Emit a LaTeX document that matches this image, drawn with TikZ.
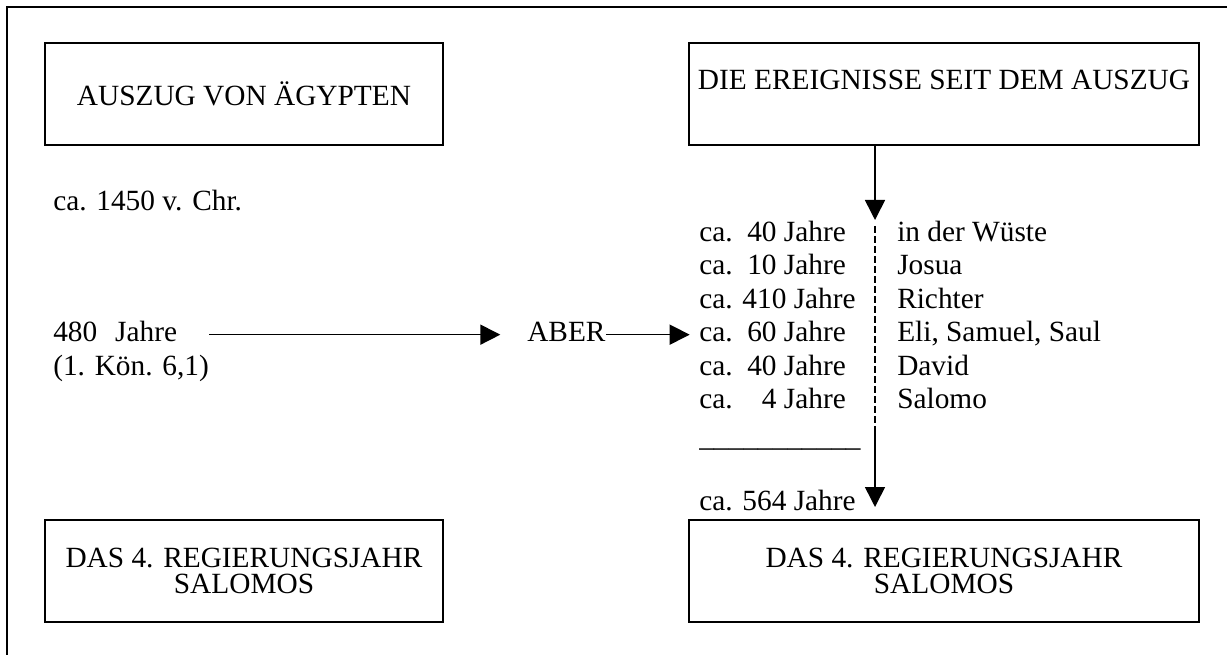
\documentclass[tikz,border=0pt]{standalone}
\usepackage{fontspec}
\setmainfont{Liberation Serif}
\usetikzlibrary{arrows.meta}
\begin{document}
\begin{tikzpicture}[x=0.75pt,y=-0.75pt,
    font=\fontsize{22pt}{26pt}\selectfont,
    box/.style={draw,line width=1.5pt,inner sep=0pt,align=center,minimum height=76.5pt},
    lowbox/.style={box,font=\fontsize{22pt}{20pt}\selectfont},
    txt/.style={inner sep=0pt,text height=15.4pt,text depth=4.4pt,anchor=base west},
    arr/.style={line width=1.2pt,-{Triangle[length=15pt,width=15pt]}}]
    \useasboundingbox (0,0) rectangle (1227,655);
    \draw[line width=1.5pt] (7,655)--(7,7)--(1227,7);
    \node[box,minimum width=298.5pt](aus) at (244,94) {AUSZUG VON ÄGYPTEN};
    \node[box,minimum width=382.5pt,text height=35.25pt,text depth=41.25pt,anchor=base](ereig) at (944,90) {DIE EREIGNISSE SEIT DEM AUSZUG};
    \node[lowbox,minimum width=298.5pt](jahr) at (244,571) {DAS 4. REGIERUNGSJAHR\\SALOMOS};
    \node[lowbox,minimum width=382.5pt](jahrr) at (944,571) {DAS 4. REGIERUNGSJAHR\\SALOMOS};
    \node[txt](c1450) at (53,211) {ca. 1450 v. Chr.};
    \node[txt](n480) at (53,342) {480\hspace{13.5pt}Jahre};
    \node[txt](koen) at (53,375.5) {(1. Kön. 6,1)};
    \node[txt](aber) at (527,342) {ABER};
    \node[txt](r1) at (699,241.5) {ca.\hspace{0.5em}40 Jahre};
    \node[txt](r2) at (699,275) {ca.\hspace{0.5em}10 Jahre};
    \node[txt](r3) at (699,308.5) {ca. 410 Jahre};
    \node[txt](r4) at (699,342) {ca.\hspace{0.5em}60 Jahre};
    \node[txt](r5) at (699,375.5) {ca.\hspace{0.5em}40 Jahre};
    \node[txt](r6) at (699,409) {ca.\hspace{1em}4 Jahre};
    \node[txt](w1) at (897,241.5) {in der Wüste};
    \node[txt](w2) at (897,275) {Josua};
    \node[txt](w3) at (897,308.5) {Richter};
    \node[txt](w4) at (897,342) {Eli, Samuel, Saul};
    \node[txt](w5) at (897,375.5) {David};
    \node[txt](w6) at (897,409) {Salomo};
    \node[txt](strich) at (699,446) {\_\_\_\_\_\_\_\_\_\_\_};
    \node[txt](summe) at (699,510) {ca. 564 Jahre};
    \draw[arr,shorten <=24pt,shorten >=20pt] (n480.east)--(aber.west);
    \draw[arr,shorten >=7pt] (aber.east)--(r4.west);
    \coordinate (t1) at (875,220);
    \coordinate (d1) at (875,226);
    \coordinate (d2) at (875,427);
    \draw[arr] (ereig.south -| t1)--(t1);
    \draw[line width=1.1pt,dash pattern=on 5pt off 2.5pt] (d1)--(d2);
    \draw[arr,shorten >=9pt] (d2)--(jahrr.north -| d2);
\end{tikzpicture}
\end{document}
